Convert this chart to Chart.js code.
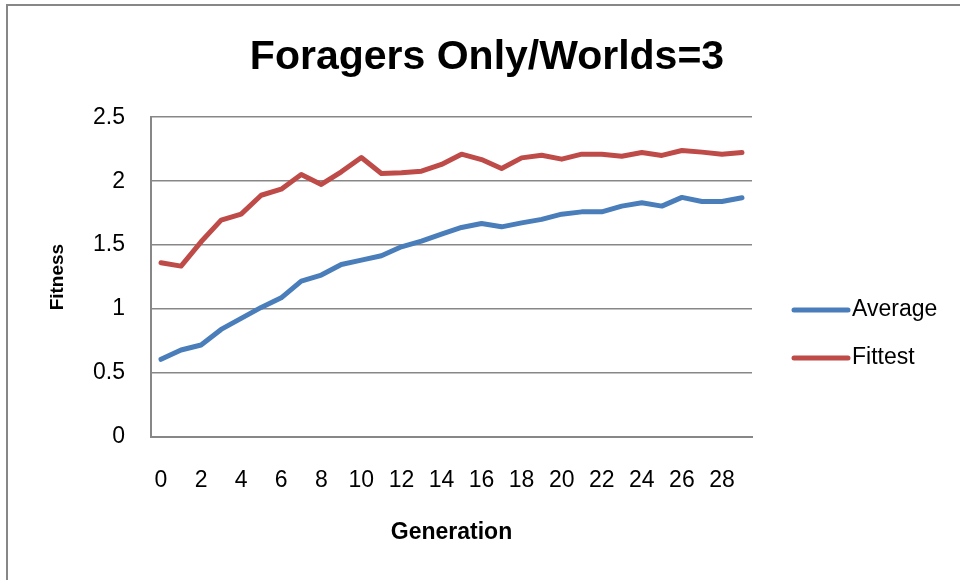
<!DOCTYPE html>
<html>
<head>
<meta charset="utf-8">
<script src="https://cdn.jsdelivr.net/npm/chart.js@4"></script>
<style>
  html, body { margin: 0; padding: 0; background: #fff; }
  #wrap { width: 960px; height: 580px; position: relative; }
</style>
</head>
<body>
<div id="wrap"><canvas id="c" width="960" height="580"></canvas></div>
<script>
const chartTitle = 'Foragers Only/Worlds=3';
const xTitle = 'Generation';
const yTitle = 'Fitness';
const generations = [0,1,2,3,4,5,6,7,8,9,10,11,12,13,14,15,16,17,18,19,20,21,22,23,24,25,26,27,28,29];
const averageFitness = [0.607,0.680,0.719,0.841,0.927,1.013,1.088,1.219,1.266,1.349,1.383,1.417,1.487,1.531,1.586,1.638,1.669,1.643,1.674,1.701,1.742,1.760,1.760,1.805,1.831,1.805,1.873,1.841,1.841,1.870];
const fittestFitness = [1.362,1.336,1.526,1.695,1.742,1.890,1.937,2.052,1.974,2.073,2.185,2.060,2.065,2.078,2.131,2.211,2.169,2.099,2.182,2.203,2.172,2.211,2.211,2.195,2.224,2.201,2.240,2.227,2.211,2.224];
const seriesNames = ['Average', 'Fittest'];
const seriesColors = ['#4A7EBB', '#BE4B48'];

const FONT = '"Liberation Sans", Arial, sans-serif';
const GRID = '#878787';

const frame = {
  id: 'frame',
  beforeDraw(chart) {
    const ctx = chart.ctx;
    ctx.save();
    ctx.fillStyle = '#fff';
    ctx.fillRect(0, 0, chart.width, chart.height);
    ctx.strokeStyle = GRID;
    ctx.lineWidth = 2;
    ctx.beginPath();
    ctx.moveTo(7, chart.height);
    ctx.lineTo(7, 5);
    ctx.lineTo(chart.width, 5);
    ctx.stroke();
    ctx.restore();
  }
};

const sideLegend = {
  id: 'sideLegend',
  afterDraw(chart) {
    const ctx = chart.ctx;
    const a = chart.chartArea;
    const x0 = a.right + 42, x1 = a.right + 96;
    const yStart = 310, gap = 48;
    ctx.save();
    chart.data.datasets.forEach((ds, i) => {
      const y = yStart + i * gap;
      ctx.strokeStyle = ds.borderColor;
      ctx.lineWidth = 5;
      ctx.lineCap = 'round';
      ctx.beginPath();
      ctx.moveTo(x0, y);
      ctx.lineTo(x1, y);
      ctx.stroke();
      ctx.fillStyle = '#000';
      ctx.font = '23px ' + FONT;
      ctx.textAlign = 'left';
      ctx.textBaseline = 'middle';
      ctx.fillText(ds.label, x1 + 4, y);
    });
    ctx.restore();
  }
};

new Chart(document.getElementById('c'), {
  type: 'line',
  data: {
    labels: generations,
    datasets: [
      { label: seriesNames[0], data: averageFitness, borderColor: seriesColors[0], backgroundColor: seriesColors[0], yAxisID: 'y' },
      { label: seriesNames[1], data: fittestFitness, borderColor: seriesColors[1], backgroundColor: seriesColors[1], yAxisID: 'y' }
    ]
  },
  options: {
    responsive: false,
    animation: false,
    devicePixelRatio: 1,
    layout: { padding: { left: 14, right: 0, top: 0, bottom: 0 } },
    elements: {
      point: { radius: 0, hoverRadius: 0 },
      line: { borderWidth: 5, tension: 0, borderCapStyle: 'round', borderJoinStyle: 'round' }
    },
    plugins: {
      legend: { display: false },
      tooltip: { enabled: false },
      title: {
        display: true,
        text: chartTitle,
        color: '#000',
        font: { family: FONT, size: 41, weight: 'bold', lineHeight: 1.2 },
        padding: { top: 33, bottom: 35 }
      }
    },
    scales: {
      x: {
        type: 'category',
        offset: true,
        grid: { display: false, drawTicks: false },
        border: { display: true, color: GRID, width: 2 },
        ticks: {
          autoSkip: false,
          maxRotation: 0,
          padding: 30,
          color: '#000',
          font: { family: FONT, size: 23 },
          callback: function(val, idx) { return idx % 2 === 0 ? String(generations[idx]) : ''; }
        },
        title: {
          display: true,
          text: xTitle,
          color: '#000',
          font: { family: FONT, size: 23, weight: 'bold', lineHeight: 1.2 },
          padding: { top: 0, bottom: 34 }
        },
        afterFit: s => { s.height = 143; }
      },
      y: {
        min: 0,
        max: 2.5,
        ticks: {
          stepSize: 0.5,
          padding: 26,
          color: '#000',
          font: { family: FONT, size: 23 },
          callback: v => String(Number(v))
        },
        grid: { color: GRID, lineWidth: 1.5, drawTicks: false },
        border: { display: true, color: GRID, width: 2 },
        title: {
          display: true,
          text: yTitle,
          color: '#000',
          font: { family: FONT, size: 19, weight: 'bold', lineHeight: 1.2 },
          padding: { top: 32, bottom: 0 }
        },
        afterFit: s => { s.width = 137; }
      },
      legendSpace: {
        type: 'linear',
        position: 'right',
        display: true,
        grid: { display: false, drawTicks: false },
        border: { display: false },
        ticks: { display: false },
        afterFit: s => { s.width = 208; }
      }
    }
  },
  plugins: [frame, sideLegend]
});
</script>
</body>
</html>
